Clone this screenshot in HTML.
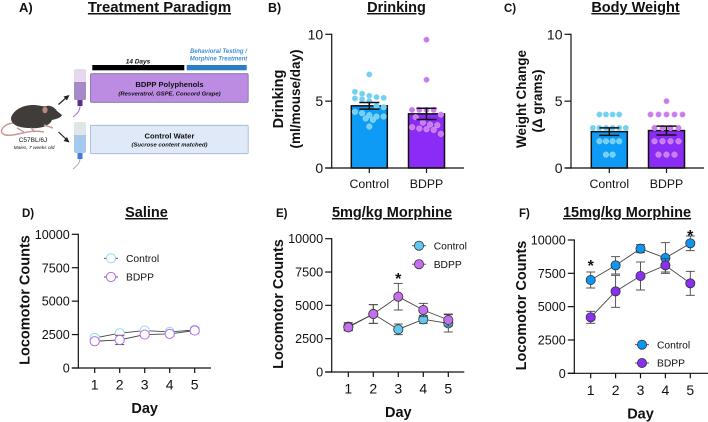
<!DOCTYPE html>
<html>
<head>
<meta charset="utf-8">
<style>
html,body{margin:0;padding:0;background:#fff;width:708px;height:422px;overflow:hidden}
svg{display:block;font-family:"Liberation Sans",sans-serif}
text{fill:#111}
.title{font-weight:700;font-size:14.5px;text-anchor:middle;text-decoration:underline}
.panel{font-weight:700;font-size:11.5px}
.ylab{font-weight:700;font-size:14.5px;text-anchor:middle}
</style>
</head>
<body>
<svg id="fig" xmlns="http://www.w3.org/2000/svg" width="708" height="422" viewBox="0 0 708 422">
  <g>
    <text class="panel" x="19" y="12" style="font-size:13px">A)</text>
    <text class="title" x="159.500" y="12" style="font-size:14.900px">Treatment Paradigm</text>
    <g>
      <path d="M13 123C5 124 0 129 2 133C5 137 14 135 23 133C30 131 38 131 44 132" fill="none" stroke="#c99a94" stroke-width="1.500"/>
      <path d="M11 118C13 110 23 105 33 105C39 105 43 107 47 106C51 105 55 108 57 111L62 115C61 118 56 119 52 120C50 126 40 129 30 128C19 128 11 125 11 118Z" fill="#403c3a"/>
      <ellipse cx="45" cy="110" rx="2.600" ry="3.200" fill="#b88a86"/>
      <path d="M17 128L24 132M31 128L35 132M44 125L53 128" stroke="#c99a94" stroke-width="1.500"/>
      <text x="33" y="142" font-size="6.500" text-anchor="middle">C57BL/6J</text>
      <text x="34" y="149" font-size="4.800" font-style="italic" text-anchor="middle">Males, 7 weeks old</text>
    </g>
    <g stroke="#222" stroke-width="1.200" fill="#222">
      <path d="M58.500 104.500L67 97"/><path d="M69.500 95L63.500 96.500L67 100.500Z" stroke="none"/>
      <path d="M58.500 132L67 140"/><path d="M69.500 142.500L63.500 141L67 137Z" stroke="none"/>
    </g>
    <g>
      <path d="M80 106C80 111 77 114 73 117" fill="none" stroke="#9b6fc4" stroke-width="1"/>
      <rect x="77.500" y="99" width="5" height="7" fill="#5b2e90"/>
      <rect x="74" y="69" width="12" height="31" rx="2" fill="#e6d8ee"/>
      <path d="M74 82H86V98a2 2 0 0 1-2 2H76a2 2 0 0 1-2-2Z" fill="#a88ac6"/>
    </g>
    <g>
      <path d="M80 158C80 163 77 166 73 169" fill="none" stroke="#aaa" stroke-width="1"/>
      <rect x="77.500" y="152" width="5" height="7" fill="#4a78d8"/>
      <rect x="74" y="122" width="12" height="31" rx="2" fill="#e0e5e8"/>
      <path d="M74 135H86V151a2 2 0 0 1-2 2H76a2 2 0 0 1-2-2Z" fill="#a6caee"/>
    </g>
    <rect x="92.300" y="65" width="92" height="5.300" fill="#000"/>
    <rect x="186.700" y="65" width="60" height="5.300" fill="#2e7cc4"/>
    <text x="138" y="63.500" font-size="6.500" font-weight="700" font-style="italic" text-anchor="middle">14 Days</text>
    <text x="218.500" y="53" font-size="6" font-weight="700" font-style="italic" text-anchor="middle" style="fill:#3f8fd6">Behavioral Testing /</text>
    <text x="218.500" y="60.500" font-size="6" font-weight="700" font-style="italic" text-anchor="middle" style="fill:#3f8fd6">Morphine Treatment</text>
    <rect x="90.500" y="73.700" width="157.700" height="28.600" rx="1" fill="#bb8ce2" stroke="#7d6ca8" stroke-width=".8"/>
    <text x="169.500" y="87" font-size="7.600" font-weight="700" text-anchor="middle">BDPP Polyphenols</text>
    <text x="169.500" y="95.500" font-size="5.900" font-weight="700" font-style="italic" text-anchor="middle">(Resveratrol, GSPE, Concord Grape)</text>
    <rect x="90.500" y="125.300" width="157.700" height="28.400" rx="1" fill="#dfe9f8" stroke="#9db8d4" stroke-width=".8"/>
    <text x="169.500" y="138.500" font-size="7.600" font-weight="700" text-anchor="middle">Control Water</text>
    <text x="169.500" y="146.500" font-size="5.900" font-weight="700" font-style="italic" text-anchor="middle">(Sucrose content matched)</text>
  </g>
  <text class="panel" x="268" y="12" style="font-size:12.500px">B)</text>
  <text class="title" x="396.500" y="12">Drinking</text>
  <text class="panel" x="504" y="12">C)</text>
  <text class="title" x="635.500" y="12">Body Weight</text>
  <text class="panel" x="22" y="217">D)</text>
  <text class="title" x="146.500" y="217">Saline</text>
  <text class="panel" x="276" y="217">E)</text>
  <text class="title" x="392" y="217">5mg/kg Morphine</text>
  <text class="panel" x="519" y="217">F)</text>
  <text class="title" x="627" y="217">15mg/kg Morphine</text>
  <text class="ylab" transform="translate(283,99) rotate(-90)">Drinking</text>
  <text class="ylab" transform="translate(300,99) rotate(-90)" style="font-size:13.500px">(ml/mouse/day)</text>
  <text class="ylab" transform="translate(526,99) rotate(-90)" style="font-size:13.500px">Weight Change</text>
  <text class="ylab" transform="translate(542,101) rotate(-90)" style="font-size:13.500px">(Δ grams)</text>
  <text x="0" y="0" class="ylab" transform="translate(29.500,300) rotate(-90)">Locomotor Counts</text>
  <text x="0" y="0" class="ylab" transform="translate(283,304) rotate(-90)">Locomotor Counts</text>
  <text x="0" y="0" class="ylab" transform="translate(526,305.500) rotate(-90)">Locomotor Counts</text>
</svg>
<script>
var barCategories = ["Control", "BDPP"];
var barTicks = [0, 5, 10];
var drinkingMeans = [4.65, 4.05];
var drinkingErrors = [0.25, 0.42];
var drinkingControlPoints = [7.0, 5.7, 5.55, 5.4, 5.3, 5.25, 5.2, 5.15, 5.0, 4.65, 4.55, 4.2, 4.1, 3.95, 3.85, 3.85, 3.7, 3.6, 3.1];
var drinkingBdppPoints = [9.6, 6.6, 4.35, 4.35, 4.35, 4.35, 4.0, 3.8, 3.4, 3.25, 3.2, 3.05, 2.95, 2.9, 2.85, 2.55];
var weightMeans = [2.72, 2.8];
var weightErrors = [0.28, 0.33];
var weightControlPoints = [4, 4, 4, 4, 3, 3, 3, 3, 3, 3, 2, 2, 2, 2, 1, 1];
var weightBdppPoints = [5, 4, 4, 4, 4, 4, 3, 3, 3, 3, 2, 2, 2, 2, 1, 1, 1];

var days = [1, 2, 3, 4, 5];
var lineTicks = [0, 2500, 5000, 7500, 10000];
var salineControl = [2250, 2600, 2800, 2700, 2850];
var salineControlErr = [150, 150, 120, 120, 120];
var salineBdpp = [2000, 2100, 2500, 2550, 2800];
var salineBdppErr = [150, 350, 150, 120, 200];
var mg5Control = [3400, 4350, 3200, 3950, 3650];
var mg5ControlErr = [300, 700, 400, 300, 650];
var mg5Bdpp = [3350, 4350, 5650, 4650, 3900];
var mg5BdppErr = [250, 700, 1000, 500, 450];
var mg15Control = [7000, 8100, 9350, 8650, 9750];
var mg15ControlErr = [600, 650, 300, 1150, 550];
var mg15Bdpp = [4200, 6150, 7300, 8100, 6750];
var mg15BdppErr = [450, 1200, 1050, 500, 900];

var NS = "http://www.w3.org/2000/svg";
var fig = document.getElementById("fig");
function el(tag, attrs, parent, txt) {
  var e = document.createElementNS(NS, tag);
  for (var k in attrs) e.setAttribute(k, attrs[k]);
  if (txt !== undefined) e.textContent = txt;
  (parent || fig).appendChild(e);
  return e;
}
function seg(g, x1, y1, x2, y2, w, c) {
  return el("line", {x1: x1, y1: y1, x2: x2, y2: y2, stroke: c || "#111", "stroke-width": w || 1.2}, g);
}
function axes(g, ax, ay0, ayTop, xEnd, ticks, maxV, fs, yOf) {
  seg(g, ax, ayTop - 0.6, ax, ay0 + 0.6);
  seg(g, ax - 6.5, ay0, xEnd, ay0);
  ticks.forEach(function (t) {
    var y = yOf(t);
    seg(g, ax - 6.5, y, ax, y);
    var lab = el("text", {x: ax - 8.5, y: y + fs * 0.36, "font-size": fs, "text-anchor": "end"}, g, String(t));
    
    
  });
}
function swarm(points, binWidth, step) {
  var bins = {};
  points.forEach(function (v) {
    var b = Math.round(v / binWidth);
    (bins[b] = bins[b] || []).push(v);
  });
  var out = [];
  Object.keys(bins).forEach(function (b) {
    var arr = bins[b];
    arr.forEach(function (v, i) {
      out.push({v: v, off: (i - (arr.length - 1) / 2) * step});
    });
  });
  return out;
}
function barPanel(name, ax, xEnd, centers, means, errs, pointSets, binWidth, steps) {
  var g = el("g", {});
  
  
  var y0 = 168, yTop = 34.3, maxV = 10;
  function y(v) { return y0 - (y0 - yTop) * v / maxV; }
  var fills = ["#0d9bf6", "#8a2cf5"];
  var dotFills = ["#74d0ef", "#c97cec"];
  var dotStroke = ["#9fe0f5", "#dca6f2"];
  means.forEach(function (m, i) {
    var r = el("rect", {x: centers[i] - 18, y: y(m), width: 36, height: y0 - y(m), fill: fills[i], stroke: "#111", "stroke-width": 1.5}, g);
    
    
  });
  pointSets.forEach(function (pts, i) {
    swarm(pts, binWidth, steps[i]).forEach(function (p) {
      var c = el("circle", {cx: centers[i] + p.off, cy: y(p.v), r: 2.8, fill: dotFills[i], stroke: dotStroke[i], "stroke-width": 0.5}, g);
      
      
    });
  });
  means.forEach(function (m, i) {
    var e = errs[i];
    seg(g, centers[i], y(m - e), centers[i], y(m + e), 1.5);
    seg(g, centers[i] - 10, y(m - e), centers[i] + 10, y(m - e), 1.5);
    seg(g, centers[i] - 10, y(m + e), centers[i] + 10, y(m + e), 1.5);
  });
  axes(g, ax, y0, yTop, xEnd, barTicks, maxV, 14, y);
  barCategories.forEach(function (c, i) {
    seg(g, centers[i], y0, centers[i], y0 + 5);
    var t = el("text", {x: centers[i], y: 188, "font-size": 12.3, "text-anchor": "middle"}, g, c);
    
    
  });
}
function linePanel(opts) {
  var g = el("g", {});
  
  
  var y0 = opts.y0, yTop = opts.yTop, maxV = 10000;
  function y(v) { return y0 - (y0 - yTop) * v / maxV; }
  function x(d) { return opts.x1 + (d - 1) * opts.dx; }
  axes(g, opts.ax, y0, yTop, opts.xEnd, lineTicks, maxV, 12.6, y);
  days.forEach(function (d) {
    seg(g, x(d), y0, x(d), y0 + 5);
    var t = el("text", {x: x(d), y: y0 + 21.5, "font-size": 14, "text-anchor": "middle"}, g, String(d));
    
    
  });
  var dayLab = el("text", {x: x(3), y: y0 + 45, "font-size": 14.5, "font-weight": 700, "text-anchor": "middle"}, g, "Day");
  
  
  opts.series.forEach(function (s) {
    var pts = s.vals.map(function (v, i) { return x(days[i]) + "," + y(v); }).join(" ");
    var pl = el("polyline", {points: pts, fill: "none", stroke: opts.line, "stroke-width": 0.9}, g);
    
    
    s.vals.forEach(function (v, i) {
      var xx = x(days[i]), e = s.errs[i];
      seg(g, xx, y(v - e), xx, y(v + e), 0.9, opts.line);
      seg(g, xx - 4.5, y(v - e), xx + 4.5, y(v - e), 0.9, opts.line);
      seg(g, xx - 4.5, y(v + e), xx + 4.5, y(v + e), 0.9, opts.line);
    });
    s.vals.forEach(function (v, i) {
      var c = el("circle", {cx: x(days[i]), cy: y(v), r: 4.6, fill: s.fill, stroke: s.stroke, "stroke-width": s.sw}, g);
      
      
    });
  });
  opts.stars.forEach(function (st) {
    var t = el("text", {x: x(st[0]), y: y(st[1]) + 9, "font-size": 16, "font-weight": 700, "text-anchor": "middle"}, g, "*");
    
    
  });
  opts.series.forEach(function (s, i) {
    var ly = opts.legY + i * opts.legDy;
    seg(g, opts.legX - 7, ly, opts.legX + 7, ly, 0.9, opts.line);
    var c = el("circle", {cx: opts.legX, cy: ly, r: 4.6, fill: s.fill, stroke: s.stroke, "stroke-width": s.sw}, g);
    
    
    var t = el("text", {x: opts.legX + opts.legGap, y: ly + 3.7, "font-size": 10.3}, g, s.label);
    
    
  });
}
barPanel("drinking", 331.7, 464, [369.3, 426.5], drinkingMeans, drinkingErrors, [drinkingControlPoints, drinkingBdppPoints], 0.7, [7.2, 7.2]);
barPanel("body-weight", 571, 704, [609.3, 666.5], weightMeans, weightErrors, [weightControlPoints, weightBdppPoints], 1, [6.6, 8]);
linePanel({name: "saline", ax: 78.3, xEnd: 211, x1: 94.7, dx: 25, y0: 368, yTop: 234.3, line: "#444", stars: [],
  legX: 111, legY: 258.3, legDy: 18.7, legGap: 15,
  series: [
    {label: "Control", vals: salineControl, errs: salineControlErr, fill: "#fff", stroke: "#8fdcf2", sw: 1},
    {label: "BDPP", vals: salineBdpp, errs: salineBdppErr, fill: "#fff", stroke: "#b46cea", sw: 1}
  ]});
linePanel({name: "5mg-morphine", ax: 331.7, xEnd: 464.3, x1: 348.3, dx: 25, y0: 372, yTop: 238.7, line: "#444", stars: [[3, 7275]],
  legX: 419, legY: 245.7, legDy: 18.5, legGap: 14.7,
  series: [
    {label: "Control", vals: mg5Control, errs: mg5ControlErr, fill: "#5fc9ef", stroke: "#333", sw: 0.8},
    {label: "BDPP", vals: mg5Bdpp, errs: mg5BdppErr, fill: "#c76df0", stroke: "#333", sw: 0.8}
  ]});
linePanel({name: "15mg-morphine", ax: 574.3, xEnd: 708, x1: 590.7, dx: 24.9, y0: 373.3, yTop: 240, line: "#444", stars: [[1, 8350], [5, 10600]],
  legX: 642, legY: 344.7, legDy: 18.3, legGap: 15,
  series: [
    {label: "Control", vals: mg15Control, errs: mg15ControlErr, fill: "#0c95f2", stroke: "#333", sw: 0.8},
    {label: "BDPP", vals: mg15Bdpp, errs: mg15BdppErr, fill: "#8a30f2", stroke: "#333", sw: 0.8}
  ]});
</script>
</body>
</html>
